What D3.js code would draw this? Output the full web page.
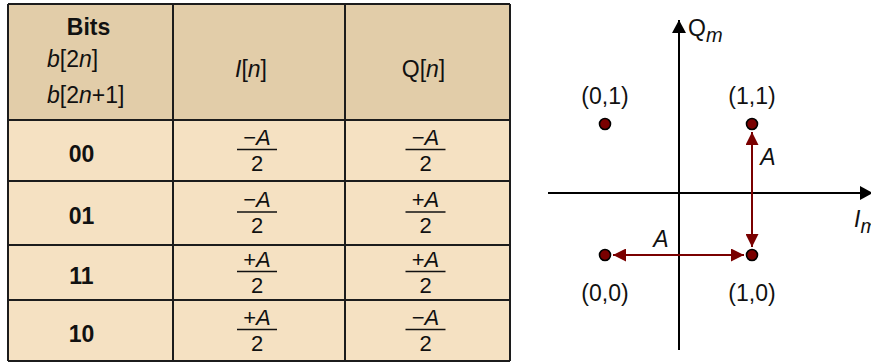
<!DOCTYPE html>
<html lang="en">
<head>
<meta charset="utf-8">
<title>QPSK mapping</title>
<script src="https://d3js.org/d3.v7.min.js"></script>
<style>
  body { margin: 0; background: #fff; }
  text { font-family: "Liberation Sans", Arial, sans-serif; fill: #111; }
</style>
</head>
<body>
<script>

// data
var bits = ["00", "01", "11", "10"];
var iSign = [-1, -1, 1, 1];
var qSign = [-1, 1, 1, -1];
var pointLabels = ["(0,0)", "(0,1)", "(1,1)", "(1,0)"];

var w = 871, h = 362;

var svg = d3.select("body").append("svg")
    .attr("width", w)
    .attr("height", h);

// ---- table ----
var colEdges = [8, 173, 345, 510];
var rowEdges = [4, 120, 181, 245, 300, 361];
var headFill = "#e2cda9", bodyFill = "#f5e1c2", lineCol = "#1c1c1c";

var tbl = svg.append("g");

tbl.append("rect")
    .attr("x", colEdges[0]).attr("y", rowEdges[0])
    .attr("width", colEdges[3] - colEdges[0])
    .attr("height", rowEdges[1] - rowEdges[0])
    .attr("fill", headFill);
tbl.append("rect")
    .attr("x", colEdges[0]).attr("y", rowEdges[1])
    .attr("width", colEdges[3] - colEdges[0])
    .attr("height", rowEdges[5] - rowEdges[1])
    .attr("fill", bodyFill);

tbl.selectAll("line.h").data(rowEdges).enter().append("line")
    .attr("x1", colEdges[0]).attr("x2", colEdges[3])
    .attr("y1", d => d).attr("y2", d => d)
    .attr("stroke", lineCol).attr("stroke-width", 2);
tbl.selectAll("line.v").data(colEdges).enter().append("line")
    .attr("y1", rowEdges[0]).attr("y2", rowEdges[5])
    .attr("x1", d => d).attr("x2", d => d)
    .attr("stroke", lineCol).attr("stroke-width", 2);

var colMid = d3.range(3).map(i => (colEdges[i] + colEdges[i + 1]) / 2);

// header
tbl.append("text").attr("x", colMid[0] - 2).attr("y", 35)
    .attr("text-anchor", "middle").attr("font-size", 23).attr("font-weight", "bold")
    .text("Bits");

function mathText(sel, parts) {
  parts.forEach(p => {
    sel.append("tspan").attr("font-style", p[1] ? "italic" : "normal").text(p[0]);
  });
  return sel;
}

mathText(tbl.append("text").attr("x", 47).attr("y", 67).attr("font-size", 23),
  [["b", 1], ["[2", 0], ["n", 1], ["]", 0]]);
mathText(tbl.append("text").attr("x", 47).attr("y", 103).attr("font-size", 23),
  [["b", 1], ["[2", 0], ["n", 1], ["+1]", 0]]);
mathText(tbl.append("text").attr("x", colMid[1] - 8).attr("y", 77)
    .attr("text-anchor", "middle").attr("font-size", 23),
  [["I", 1], ["[", 0], ["n", 1], ["]", 0]]);
mathText(tbl.append("text").attr("x", colMid[2] - 4).attr("y", 77)
    .attr("text-anchor", "middle").attr("font-size", 23),
  [["Q", 0], ["[", 0], ["n", 1], ["]", 0]]);

// body rows
bits.forEach((b, i) => {
  var mid = (rowEdges[i + 1] + rowEdges[i + 2]) / 2;
  tbl.append("text").attr("x", colMid[0] - 9).attr("y", mid + 11)
      .attr("text-anchor", "middle").attr("font-size", 23).attr("font-weight", "bold")
      .text(b);
  [iSign[i], qSign[i]].forEach((s, k) => {
    var g = tbl.append("g").attr("transform", `translate(${colMid[k + 1] - 2},${mid - 1})`);
    mathText(g.append("text").attr("y", -5).attr("text-anchor", "middle").attr("font-size", 22),
      [[s < 0 ? "\u2212" : "+", 0], ["A", 1]]);
    g.append("line").attr("x1", -20).attr("x2", 20)
        .attr("stroke", "#111").attr("stroke-width", 1.6);
    g.append("text").attr("y", 21).attr("text-anchor", "middle").attr("font-size", 22)
        .text("2");
  });
});

// ---- constellation ----
var red = "#7a0000";
var xScale = d3.scaleLinear().domain([-1, 1]).range([605, 752]);
var yScale = d3.scaleLinear().domain([-1, 1]).range([255, 124]);
var ox = 679, oy = 193;

var defs = svg.append("defs");
function marker(id, col, wd, ht) {
  defs.append("marker").attr("id", id)
      .attr("viewBox", `0 0 ${wd} ${ht}`)
      .attr("refX", wd).attr("refY", ht / 2)
      .attr("markerWidth", wd).attr("markerHeight", ht)
      .attr("markerUnits", "userSpaceOnUse")
      .attr("orient", "auto-start-reverse")
    .append("path").attr("d", `M0,0L${wd},${ht / 2}L0,${ht}Z`).attr("fill", col);
}
marker("ax", "#000", 13, 14);
marker("rd", red, 13, 13);

var con = svg.append("g");
con.append("line").attr("x1", 548).attr("x2", 873).attr("y1", oy).attr("y2", oy)
    .attr("stroke", "#000").attr("stroke-width", 2).attr("marker-end", "url(#ax)");
con.append("line").attr("x1", ox).attr("x2", ox).attr("y1", 350).attr("y2", 20)
    .attr("stroke", "#000").attr("stroke-width", 2).attr("marker-end", "url(#ax)");

mathText(con.append("text").attr("x", 688).attr("y", 36).attr("font-size", 23), [["Q", 0]])
  .append("tspan").attr("font-style", "italic").attr("font-size", 20).attr("dy", 6).text("m");
mathText(con.append("text").attr("x", 854).attr("y", 227).attr("font-size", 23), [["I", 1]])
  .append("tspan").attr("font-style", "italic").attr("font-size", 20).attr("dy", 6).text("m");

// distance arrows
var gap = 8;
con.append("line")
    .attr("x1", xScale(1)).attr("x2", xScale(1))
    .attr("y1", yScale(1) + gap).attr("y2", yScale(-1) - gap)
    .attr("stroke", red).attr("stroke-width", 2)
    .attr("marker-start", "url(#rd)").attr("marker-end", "url(#rd)");
con.append("line")
    .attr("x1", xScale(-1) + gap).attr("x2", xScale(1) - gap)
    .attr("y1", yScale(-1)).attr("y2", yScale(-1))
    .attr("stroke", red).attr("stroke-width", 2)
    .attr("marker-start", "url(#rd)").attr("marker-end", "url(#rd)");

con.append("text").attr("x", xScale(1) + 16).attr("y", 165)
    .attr("text-anchor", "middle").attr("font-size", 23).attr("font-style", "italic").text("A");
con.append("text").attr("x", 661).attr("y", yScale(-1) - 8)
    .attr("text-anchor", "middle").attr("font-size", 23).attr("font-style", "italic").text("A");

// points and labels
con.selectAll("circle").data(bits).enter().append("circle")
    .attr("cx", (d, i) => xScale(iSign[i]))
    .attr("cy", (d, i) => yScale(qSign[i]))
    .attr("r", 5.5)
    .attr("fill", red).attr("stroke", "#000").attr("stroke-width", 1.6);

con.selectAll("text.pl").data(pointLabels).enter().append("text")
    .attr("class", "pl")
    .attr("x", (d, i) => xScale(iSign[i]))
    .attr("y", (d, i) => qSign[i] > 0 ? yScale(qSign[i]) - 20 : yScale(qSign[i]) + 46)
    .attr("text-anchor", "middle").attr("font-size", 23)
    .text(d => d);

</script>
</body>
</html>
